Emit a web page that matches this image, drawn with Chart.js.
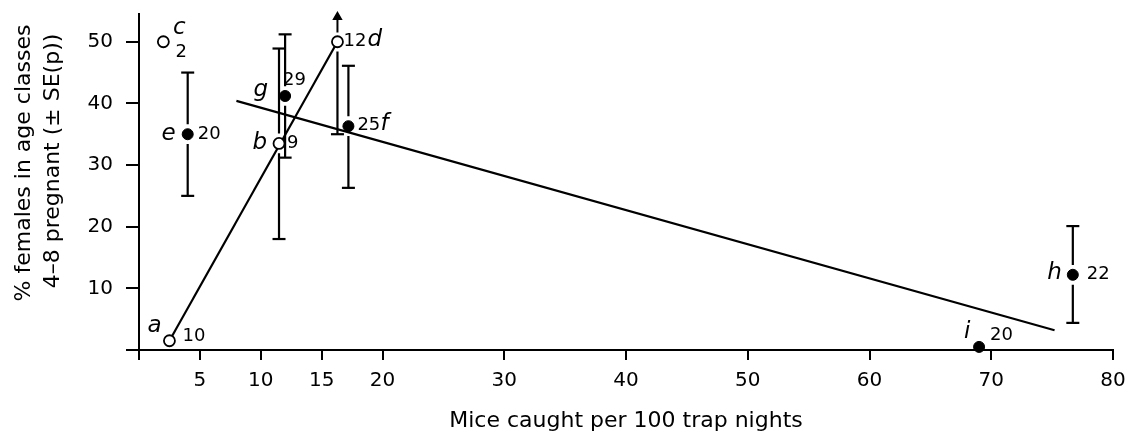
<!DOCTYPE html>
<html>
<head>
<meta charset="utf-8">
<script src="https://cdn.jsdelivr.net/npm/chart.js@4.4.1/dist/chart.umd.min.js"></script>
<style>
  html, body { margin: 0; padding: 0; background: #fff; }
  #wrap { width: 1128px; height: 439px; }
</style>
</head>
<body>
<div id="wrap"><canvas id="chart"></canvas></div>
<script>
// one entry per site (a-i)
const sites = ['a', 'b', 'c', 'd', 'e', 'f', 'g', 'h', 'i'];
const miceCaught = [2.5, 11.5, 2.0, 16.3, 4.0, 17.2, 12.0, 76.7, 69.0];
const pctPregnant = [1.5, 33.5, 50, 50, 35, 36.3, 41.2, 12.2, 0.5];
const sampleSize = [10, 9, 2, 12, 20, 25, 29, 22, 20];
const openSymbol = [true, true, true, true, false, false, false, false, false];
// +-SE(p) limits, null where none is drawn (d is off the scale upwards)
const seLow = [null, 18, null, 35, 25, 26.3, 31.2, 4.4, null];
const seHigh = [null, 48.9, null, null, 45, 46.1, 51.2, 20.1, null];

// fitted line for the closed symbols, end points
const regX = [8, 75.2];
const regY = [40.4, 3.2];

const xTicks = [0, 5, 10, 15, 20, 30, 40, 50, 60, 70, 80];
const yTicks = [0, 10, 20, 30, 40, 50];

const yTitle = ['% females in age classes', '4\u20138 pregnant (\u00b1 SE(p))'];
const xTitle = 'Mice caught per 100 trap nights';

const BLACK = '#000';
const FONT = '"DejaVu Sans", sans-serif';
const GAP = 1.6; // gap left in the SE bars around the symbol

// label placement around each symbol: [dx, dy, align] in px
const letterPlace = [
  [-15, -15, 'center'], [-12, 0, 'right'], [16, -14, 'center'],
  [30, -2, 'left'], [-12, 0, 'right'], [32, -2, 'left'],
  [-17, -6, 'right'], [-11, -2, 'right'], [-12, -15, 'center']
];
const countPlace = [
  [13, -4, 'left'], [8, 0, 'left'], [18, 11, 'center'],
  [6, 0, 'left'], [10, 0, 'left'], [9, -1, 'left'],
  [-2, -16, 'left'], [14, 0, 'left'], [11, -12, 'left']
];

const pts = sites.map((s, i) => ({ x: miceCaught[i], y: pctPregnant[i] }));
const openPts = pts.filter((p, i) => openSymbol[i]);
const closedPts = pts.filter((p, i) => !openSymbol[i]);

// SE bars as one broken line, caps drawn as 'line' points
const errData = [];
sites.forEach((s, i) => {
  const x = miceCaught[i], y = pctPregnant[i];
  if (seHigh[i] !== null) {
    errData.push({ x, y: seHigh[i], cap: true }, { x, y: y + GAP }, { x, y: null });
  }
  if (seLow[i] !== null) {
    errData.push({ x, y: y - GAP }, { x, y: seLow[i], cap: true }, { x, y: null });
  }
});

const iD = sites.indexOf('d');
const iA = sites.indexOf('a');
const arrowData = [
  { x: miceCaught[iD], y: pctPregnant[iD] + 1.5 },
  { x: miceCaught[iD], y: 54.0, head: true }
];

const siteLabels = {
  id: 'siteLabels',
  afterDatasetsDraw(chart) {
    const { ctx, scales: { x, y } } = chart;
    ctx.save();
    ctx.fillStyle = BLACK;
    ctx.textBaseline = 'middle';
    sites.forEach((s, i) => {
      const px = x.getPixelForValue(miceCaught[i]);
      const py = y.getPixelForValue(pctPregnant[i]);
      const L = letterPlace[i];
      const N = countPlace[i];
      ctx.font = 'italic 23px ' + FONT;
      ctx.textAlign = L[2];
      ctx.fillText(s, px + L[0], py + L[1]);
      ctx.font = '18px ' + FONT;
      ctx.textAlign = N[2];
      ctx.fillText(String(sampleSize[i]), px + N[0], py + N[1]);
    });
    ctx.restore();
  }
};

// y title sits a little above the middle of the axis in the original
const yAxisTitle = {
  id: 'yAxisTitle',
  afterDraw(chart) {
    const { ctx } = chart;
    ctx.save();
    ctx.fillStyle = BLACK;
    ctx.font = '22px ' + FONT;
    ctx.textAlign = 'center';
    ctx.textBaseline = 'middle';
    [[24, 163], [53, 161]].forEach(([cx, cy], k) => {
      ctx.save();
      ctx.translate(cx, cy);
      ctx.rotate(-Math.PI / 2);
      ctx.fillText(yTitle[k], 0, 0);
      ctx.restore();
    });
    ctx.restore();
  }
};

const axisGrid = (len) => ({
  display: true,
  drawOnChartArea: false,
  drawTicks: true,
  tickLength: len,
  color: BLACK,
  lineWidth: 2
});

new Chart(document.getElementById('chart'), {
  type: 'scatter',
  data: {
    datasets: [
      {
        data: closedPts,
        pointStyle: 'circle',
        pointRadius: 5.5,
        backgroundColor: BLACK,
        borderColor: BLACK,
        borderWidth: 1,
        clip: false
      },
      {
        data: openPts,
        pointStyle: 'circle',
        pointRadius: 5.5,
        backgroundColor: '#fff',
        borderColor: BLACK,
        borderWidth: 1.8,
        clip: false
      },
      {
        data: errData,
        showLine: true,
        spanGaps: false,
        borderColor: BLACK,
        borderWidth: 2.2,
        pointStyle: 'line',
        pointRadius: (c) => (c.raw && c.raw.cap ? 6.5 : 0),
        pointBorderWidth: 2.2,
        pointBorderColor: BLACK,
        clip: false
      },
      {
        data: arrowData,
        showLine: true,
        borderColor: BLACK,
        borderWidth: 2,
        pointStyle: 'triangle',
        pointRadius: (c) => (c.raw && c.raw.head ? 4 : 0),
        backgroundColor: BLACK,
        pointBorderColor: BLACK,
        clip: false
      },
      {
        data: [pts[iA], pts[iD]],
        showLine: true,
        borderColor: BLACK,
        borderWidth: 2.2,
        pointRadius: 0
      },
      {
        data: regX.map((v, k) => ({ x: v, y: regY[k] })),
        showLine: true,
        borderColor: BLACK,
        borderWidth: 2.2,
        pointRadius: 0
      }
    ]
  },
  options: {
    responsive: true,
    maintainAspectRatio: false,
    animation: false,
    events: [],
    layout: { padding: { top: 14, right: 15, bottom: 0, left: 0 } },
    plugins: {
      legend: { display: false },
      tooltip: { enabled: false }
    },
    scales: {
      x: {
        type: 'linear',
        min: 0,
        max: 80,
        afterBuildTicks: (s) => { s.ticks = xTicks.map((v) => ({ value: v })); },
        afterFit: (s) => {
          s.height = 89;
          s.paddingLeft = 0;
          s.paddingRight = 0;
        },
        grid: axisGrid(10),
        border: { display: true, color: BLACK, width: 2 },
        ticks: {
          color: BLACK,
          padding: 9,
          maxRotation: 0,
          autoSkip: false,
          font: { family: FONT, size: 20 },
          callback: (v) => (v === 0 ? '' : v)
        },
        title: {
          display: true,
          text: xTitle,
          color: BLACK,
          font: { family: FONT, size: 22 },
          padding: { top: 0, bottom: 5 }
        }
      },
      y: {
        type: 'linear',
        min: 0,
        max: 54.5,
        afterBuildTicks: (s) => { s.ticks = yTicks.map((v) => ({ value: v })); },
        afterFit: (s) => {
          s.width = 139;
          s.paddingTop = 0;
          s.paddingBottom = 0;
        },
        grid: axisGrid(13),
        border: { display: true, color: BLACK, width: 2 },
        ticks: {
          color: BLACK,
          padding: 13,
          autoSkip: false,
          font: { family: FONT, size: 20 },
          callback: (v) => (v === 0 ? '' : v)
        },
        title: { display: false }
      }
    }
  },
  plugins: [siteLabels, yAxisTitle]
});
</script>
</body>
</html>
